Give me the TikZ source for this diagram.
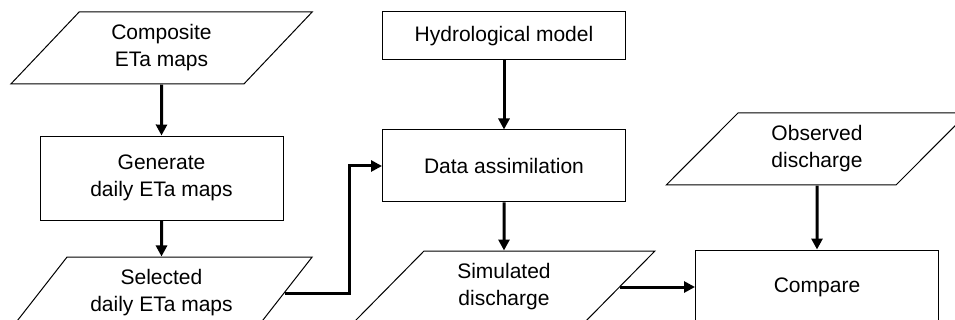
\documentclass[tikz,border=0pt]{standalone}
\usepackage{fontspec}
\setmainfont{Liberation Sans}
\usetikzlibrary{arrows.meta,positioning,shapes.geometric}

\begin{document}
\begin{tikzpicture}[
  x=1pt, y=1pt,
  node distance=50pt,
  process/.style={draw, line width=1pt, minimum width=243pt, align=center, font=\fontsize{21}{27}\selectfont},
  data/.style={draw, line width=1pt, trapezium, trapezium left angle=50.2, trapezium right angle=129.8, trapezium stretches=true, minimum width=302pt, minimum height=72pt, align=center, font=\fontsize{21}{27}\selectfont},
  flow/.style={line width=3pt, -{Triangle[length=11pt,width=11pt]}}
]
\useasboundingbox (0,0) rectangle (955,-320);

\node[data] (comp) at (161.5,-48) {Composite\\ETa maps};
\node[process, minimum height=84pt, below=51pt of comp] (gen) {Generate\\daily ETa maps};
\node[data, below=36pt of gen] (sel) {Selected\\daily ETa maps};
\node[process, minimum height=48pt] (hyd) at (504,-36) {Hydrological model};
\node[process, minimum height=72pt, below=69pt of hyd] (da) {Data assimilation};
\node[data, below=48pt of da] (sim) {Simulated\\discharge};
\node[data] (obs) at (817,-149) {Observed\\discharge};
\node[process, minimum height=74pt, below=64pt of obs] (cmp) {Compare};

\draw[flow] (comp) -- (gen);
\draw[flow] (gen) -- (sel);
\draw[flow] (hyd) -- (da);
\draw[flow] (da) -- (sim);
\draw[flow] (obs) -- (cmp);
\draw[flow] (sel.east) -- ++(65,0) |- (da.west);
\draw[flow] (sim.east) -- (sim.east -| cmp.west);

\end{tikzpicture}
\end{document}
